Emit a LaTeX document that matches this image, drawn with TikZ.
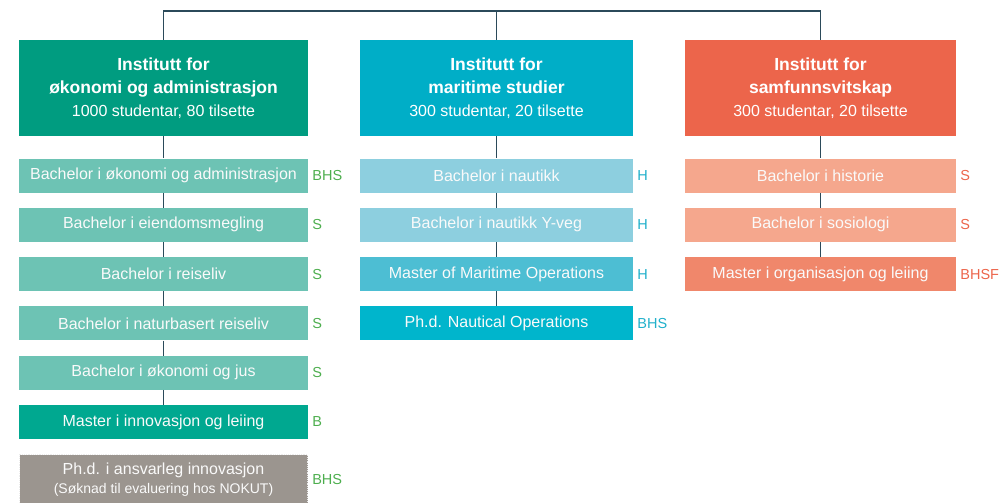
\documentclass[tikz,border=0pt]{standalone}
\usepackage{fontspec}
\setmainfont{Liberation Sans}
\usepackage{tikz}
\usepackage{xcolor}

\definecolor{ecoHeadC}{RGB}{0,156,128}
\definecolor{ecoLightC}{RGB}{109,195,180}
\definecolor{ecoMasterC}{RGB}{0,168,144}
\definecolor{grayC}{RGB}{155,149,143}
\definecolor{greenC}{RGB}{77,174,78}
\definecolor{marHeadC}{RGB}{0,174,199}
\definecolor{marLightC}{RGB}{141,207,223}
\definecolor{marMasterC}{RGB}{77,190,211}
\definecolor{marPhdC}{RGB}{0,181,204}
\definecolor{blueC}{RGB}{32,176,203}
\definecolor{socHeadC}{RGB}{236,101,75}
\definecolor{socLightC}{RGB}{245,167,141}
\definecolor{socMasterC}{RGB}{240,135,107}
\definecolor{redC}{RGB}{236,101,75}
\definecolor{lineC}{RGB}{43,74,90}

\newcommand{\headbig}{\fontsize{17.5}{23}\selectfont\bfseries}
\newcommand{\headsmall}{\fontsize{16}{23}\selectfont\mdseries}

\begin{document}
\begin{tikzpicture}[x=1pt,y=1pt,yscale=-1,xscale=1,
  head/.style={inner sep=0pt,text=white,align=center,minimum height=96pt,font=\fontsize{17.5}{23}\selectfont},
  prog/.style={inner sep=0pt,text=white!96!gray,font=\fontsize{16}{19}\selectfont,minimum height=34pt},
  code/.style={anchor=west,inner sep=0pt,font=\fontsize{14.5}{17}\selectfont},
  link/.style={color=lineC,line width=1.2pt}]
\useasboundingbox (0,0) rectangle (1002,503);

%Header boxes
\node [head,fill=ecoHeadC,minimum width=289pt] (ecoHead) at (163.5,88) {\headbig Institutt for\\ \headbig økonomi og administrasjon\\ \headsmall 1000 studentar, 80 tilsette};
\node [head,fill=marHeadC,minimum width=273pt] (marHead) at (496.5,88) {\headbig Institutt for\\ \headbig maritime studier\\ \headsmall 300 studentar, 20 tilsette};
\node [head,fill=socHeadC,minimum width=271pt] (socHead) at (820.5,88) {\headbig Institutt for\\ \headbig samfunnsvitskap\\ \headsmall 300 studentar, 20 tilsette};

%Top line
\coordinate (top) at (496.5,11);
\draw [link] (ecoHead.north) |- (top) -| (socHead.north);
\draw [link] (marHead.north) -- (marHead.north |- top);

%Programmes: left
\node [prog,fill=ecoLightC,minimum width=289pt] (eco1) at (163.5,175.5) {Bachelor i økonomi og administrasjon};
\node [prog,fill=ecoLightC,minimum width=289pt] (eco2) at (163.5,224.8) {Bachelor i eiendomsmegling};
\node [prog,fill=ecoLightC,minimum width=289pt] (eco3) at (163.5,274.1) {Bachelor i reiseliv};
\node [prog,fill=ecoLightC,minimum width=289pt] (eco4) at (163.5,323.4) {Bachelor i naturbasert reiseliv};
\node [prog,fill=ecoLightC,minimum width=289pt] (eco5) at (163.5,372.7) {Bachelor i økonomi og jus};
\node [prog,fill=ecoMasterC,minimum width=289pt] (eco6) at (163.5,422) {Master i innovasjon og leiing};
\node [prog,fill=grayC,draw=white!85!gray,densely dotted,line width=1.2pt,minimum width=288pt,minimum height=50pt,align=center,font=\fontsize{16}{19}\selectfont] (eco7) at (163.5,479.5) {Ph.d. i ansvarleg innovasjon\\ \fontsize{14}{19}\selectfont (Søknad til evaluering hos NOKUT)};

%Programmes: middle
\node [prog,fill=marLightC,minimum width=273pt] (mar1) at (496.5,175.5) {Bachelor i nautikk};
\node [prog,fill=marLightC,minimum width=273pt] (mar2) at (496.5,224.8) {Bachelor i nautikk Y-veg};
\node [prog,fill=marMasterC,minimum width=273pt] (mar3) at (496.5,274.1) {Master of Maritime Operations};
\node [prog,fill=marPhdC,minimum width=273pt] (mar4) at (496.5,323.4) {Ph.d. Nautical Operations};

%Programmes: right
\node [prog,fill=socLightC,minimum width=271pt] (soc1) at (820.5,175.5) {Bachelor i historie};
\node [prog,fill=socLightC,minimum width=271pt] (soc2) at (820.5,224.8) {Bachelor i sosiologi};
\node [prog,fill=socMasterC,minimum width=271pt] (soc3) at (820.5,274.1) {Master i organisasjon og leiing};

%Vertical links
\draw [link] (ecoHead.south) -- (eco1.north);
\foreach \a/\b in {1/2,2/3,3/4,4/5,5/6}
  \draw [link] (eco\a.south) -- (eco\b.north);
\draw [link] (marHead.south) -- (mar1.north);
\foreach \a/\b in {1/2,2/3,3/4}
  \draw [link] (mar\a.south) -- (mar\b.north);
\draw [link] (socHead.south) -- (soc1.north);
\foreach \a/\b in {1/2,2/3}
  \draw [link] (soc\a.south) -- (soc\b.north);

% Text Node
\foreach \n/\t in {1/BHS,2/S,3/S,4/S,5/S,6/B,7/BHS}
  \node [code,text=greenC] (ecoCode\n) at ([xshift=4pt]eco\n.east) {\t};
\foreach \n/\t in {1/H,2/H,3/H,4/BHS}
  \node [code,text=blueC] (marCode\n) at ([xshift=4pt]mar\n.east) {\t};
\foreach \n/\t in {1/S,2/S,3/BHSF}
  \node [code,text=redC] (socCode\n) at ([xshift=4pt]soc\n.east) {\t};
\end{tikzpicture}
\end{document}
